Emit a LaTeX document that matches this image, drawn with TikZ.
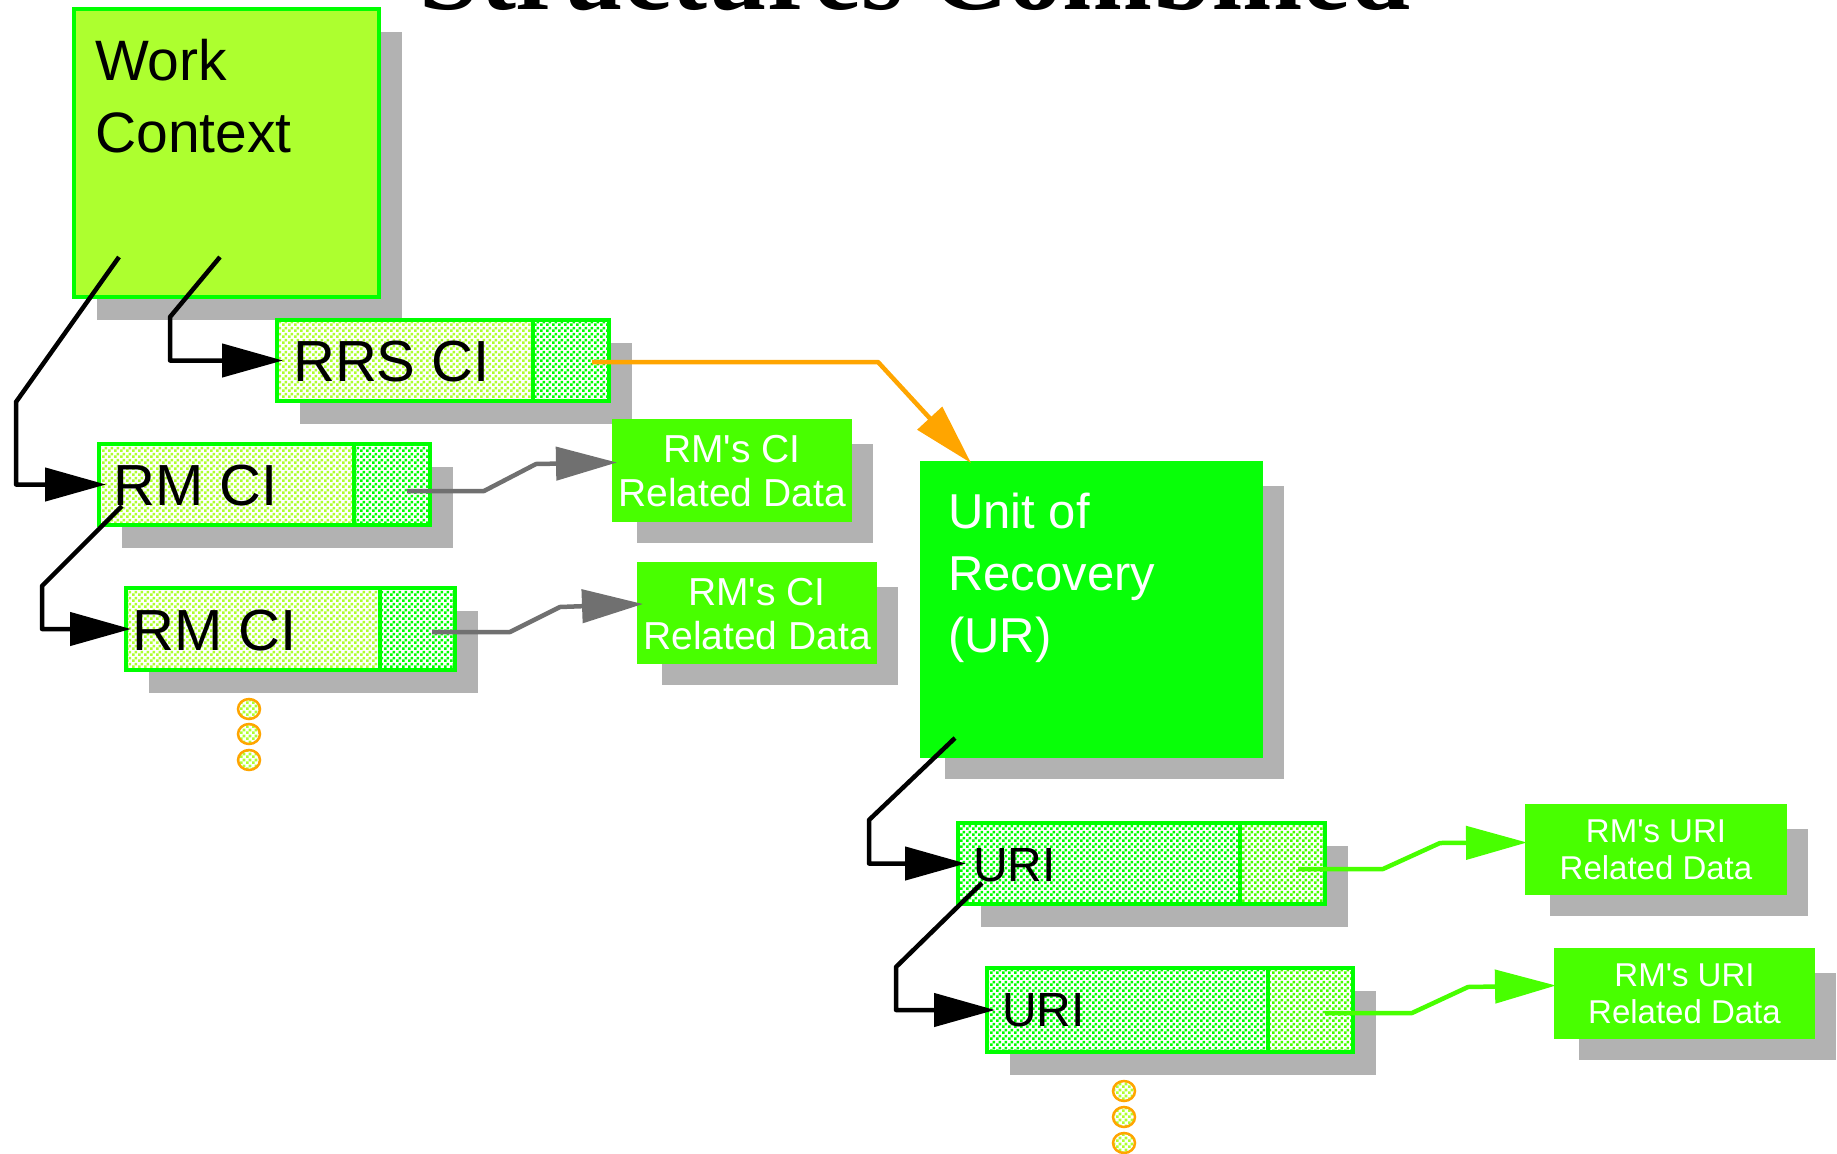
\documentclass[tikz,border=0pt]{standalone}
\usepackage{fontspec}
\setmainfont{Liberation Sans}
\newfontfamily\titlefont{Liberation Serif}
\usetikzlibrary{calc,shadows,patterns.meta,arrows.meta}

\definecolor{wcGreen}{RGB}{173,255,47}
\definecolor{edgeGreen}{RGB}{0,255,0}
\definecolor{urGreen}{RGB}{8,255,8}
\definecolor{dataGreen}{RGB}{72,255,0}
\definecolor{shadowGray}{RGB}{178,178,178}
\definecolor{linkOrange}{RGB}{255,165,0}
\definecolor{linkGray}{RGB}{112,112,112}

\tikzdeclarepattern{
    name=checker,
    type=uncolored,
    bounding box={(0pt,0pt) and (6pt,6pt)},
    tile size={(6pt,6pt)},
    code={
		\fill (0pt,0pt) rectangle (3pt,3pt);
		\fill (3pt,3pt) rectangle (6pt,6pt);
	}
}
\tikzset{
    dropShadow/.style={general shadow={fill=shadowGray, shadow xshift=23pt, shadow yshift=-23pt}},
    plainBox/.style={draw=edgeGreen, line width=4pt, inner sep=0pt, outer sep=0pt, dropShadow},
    contextBox/.style={plainBox, fill=wcGreen},
    urBox/.style={plainBox, draw=urGreen, fill=urGreen},
    dataBox/.style={plainBox, draw=dataGreen, fill=dataGreen},
    record/.style n args={3}{plainBox, fill=white, path picture={
		\fill[pattern=checker, pattern color=#1] (path picture bounding box.south west) rectangle ([xshift=-#3]path picture bounding box.north east);
		\fill[pattern=checker, pattern color=#2] ([xshift=-#3]path picture bounding box.south east) rectangle (path picture bounding box.north east);
		\draw[edgeGreen, line width=4pt] ([xshift=-#3]path picture bounding box.south east) -- ([xshift=-#3]path picture bounding box.north east);
	}},
    boxText/.style={inner sep=0pt, anchor=north west, align=left},
    dataText/.style={inner sep=0pt, anchor=north, align=center, text=white},
    link/.style={line width=4.5pt, line join=round, -{Triangle[length=61pt,width=33pt]}},
    blackLink/.style={link, black},
    grayLink/.style={link, linkGray},
    orangeLink/.style={link, linkOrange},
    greenLink/.style={link, dataGreen},
    moreDots/.style={draw=linkOrange, line width=2.5pt, preaction={fill=white}, pattern=checker, pattern color=wcGreen}
}

\begin{document}
\begin{tikzpicture}[x=1pt,y=-1pt]
			\useasboundingbox (0,0) rectangle (1837,1154);
			\clip (0,0) rectangle (1837,1154);
			\node[anchor=base, font=\titlefont\bfseries\fontsize{108}{120}\selectfont] (title) at (915.5,9) {Structures Combined};
			% work context side
			\node[contextBox, minimum width=305pt, minimum height=288pt] (wc) at (226.5,153) {};
			\node[boxText, font=\fontsize{57}{72}\selectfont] (wcText) at (95,39) {Work\\Context};
			\node[record={wcGreen}{edgeGreen}{76pt}, minimum width=332pt, minimum height=81pt] (rrs) at (443,360.5) {};
			\node[boxText, font=\fontsize{58}{60}\selectfont] (rrsText) at (293,341) {RRS CI};
			\node[record={wcGreen}{edgeGreen}{76pt}, minimum width=331pt, minimum height=81pt] (rmA) at (264.5,484.5) {};
			\node[boxText, font=\fontsize{58}{60}\selectfont] (rmAText) at (113,465) {RM CI};
			\node[record={wcGreen}{edgeGreen}{75pt}, minimum width=329pt, minimum height=82pt] (rmB) at (290.5,629) {};
			\node[boxText, font=\fontsize{58}{60}\selectfont] (rmBText) at (132,610) {RM CI};
			\node[dataBox, minimum width=236pt, minimum height=99pt] (rdA) at (732,470.5) {};
			\node[dataText, font=\fontsize{39}{44}\selectfont] (rdAText) at (732,435) {RM\textquotesingle s CI\\Related Data};
			\node[dataBox, minimum width=236pt, minimum height=98pt] (rdB) at (757,613) {};
			\node[dataText, font=\fontsize{39}{44}\selectfont] (rdBText) at (757,578) {RM\textquotesingle s CI\\Related Data};
			% unit of recovery side
			\node[urBox, minimum width=339pt, minimum height=293pt] (ur) at (1091.5,609.5) {};
			\node[boxText, text=white, font=\fontsize{49}{62}\selectfont] (urText) at (948,493) {Unit of\\Recovery\\(UR)};
			\node[record={edgeGreen}{dataGreen}{85pt}, minimum width=367pt, minimum height=81pt] (uriA) at (1141.5,863.5) {};
			\node[boxText, font=\fontsize{48}{50}\selectfont] (uriAText) at (973,848) {URI};
			\node[record={edgeGreen}{dataGreen}{85pt}, minimum width=366pt, minimum height=84pt] (uriB) at (1170,1010) {};
			\node[boxText, font=\fontsize{48}{50}\selectfont] (uriBText) at (1002,993) {URI};
			\node[dataBox, minimum width=258pt, minimum height=87pt] (rduA) at (1656,849.5) {};
			\node[dataText, font=\fontsize{33}{37}\selectfont] (rduAText) at (1656,820) {RM\textquotesingle s URI\\Related Data};
			\node[dataBox, minimum width=257pt, minimum height=87pt] (rduB) at (1684.5,993.5) {};
			\node[dataText, font=\fontsize{33}{37}\selectfont] (rduBText) at (1684.5,964) {RM\textquotesingle s URI\\Related Data};
			\foreach \y in {709,734,760} \draw[moreDots] (249,\y) ellipse [x radius=11, y radius=10];
			\foreach \y in {1091,1117,1143} \draw[moreDots] (1124,\y) ellipse [x radius=11, y radius=10];
			% connectors
			\coordinate (wcOutA) at (119,257);
			\coordinate (wcOutB) at (220,257);
			\coordinate (rmAOut) at (122,506);
			\coordinate (rrsOut) at (592,362);
			\coordinate (rmAData) at (407,491);
			\coordinate (rmBData) at (432,632);
			\coordinate (urOut) at (955,738);
			\coordinate (uriAOut) at (982,883);
			\coordinate (uriAData) at (1298,869);
			\coordinate (uriBData) at (1325,1013);
			\draw[blackLink] (wcOutA) -- (16,402) |- ($(rmA.west)+(7,0)$);
			\draw[blackLink] (wcOutB) -- (170,317) |- ($(rrs.west)+(6,0)$);
			\draw[blackLink] (rmAOut) -- (42,586) |- ($(rmB.west)+(5,0)$);
			\draw[orangeLink] (rrsOut) -- (878,362) -- ($(ur.north west)+(49,0)$);
			\draw[grayLink] (rmAData) -- (484,491) -- (536,464) -- ($(rdA.west)+(3,-8)$);
			\draw[grayLink] (rmBData) -- (510,632) -- (560,607) -- ($(rdB.west)+(4,-9)$);
			\draw[blackLink] (urOut) -- (869,820) |- ($(uriA.west)+(8,0)$);
			\draw[blackLink] (uriAOut) -- (896,967) |- ($(uriB.west)+(8,0)$);
			\draw[greenLink] (uriAData) -- (1383,869) -- (1440,843) -- ($(rduA.west)+(0,-7)$);
			\draw[greenLink] (uriBData) -- (1412,1013) -- (1468,987) -- ($(rduB.west)+(0,-8)$);
		\end{tikzpicture}
\end{document}
